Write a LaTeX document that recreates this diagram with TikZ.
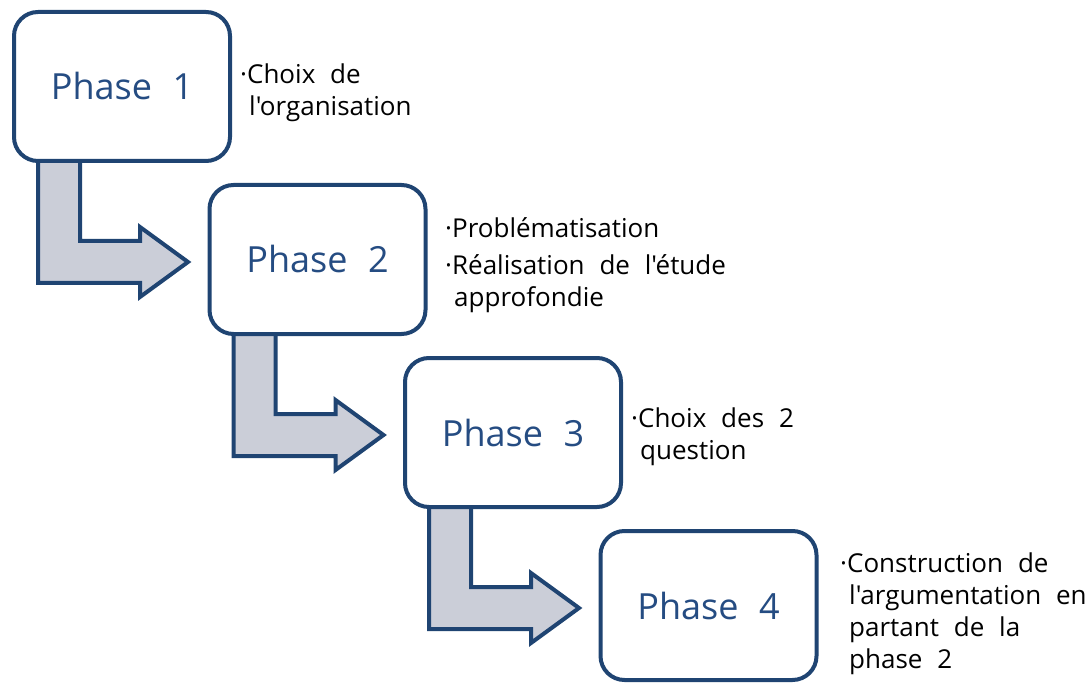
\documentclass[tikz,border=0pt]{standalone}
\usepackage{fontspec}
\setmainfont[WordSpace=2.2,Ligatures=TeXOff]{Open Sans}
\usetikzlibrary{calc}
\pgfdeclarelayer{bg}
\pgfsetlayers{bg,main}
\definecolor{boxblue}{HTML}{1F4472}
\definecolor{phaseblue}{HTML}{254C82}
\definecolor{arrowgray}{HTML}{CBCED8}
\tikzset{
  phasebox/.style={draw=boxblue, line width=4pt, fill=white, rounded corners=24pt,
    minimum width=216pt, minimum height=149pt, outer sep=0pt, inner sep=0pt,
    text=phaseblue, font=\fontsize{36}{40}\selectfont},
  bigarrow/.style={draw=boxblue, line width=4pt, fill=arrowgray, line join=miter},
  sidetext/.style={anchor=base west, align=left, inner sep=0pt, text=black,
    font=\fontsize{26}{32}\selectfont}
}
\begin{document}
\begin{tikzpicture}[x=1pt,y=-1pt]
\useasboundingbox (0,0) rectangle (1091,684);
% boxes
\node[phasebox] (p1) at (122,86.5) {Phase 1};
\node[phasebox] (p2) at (317.5,259.5) {Phase 2};
\node[phasebox] (p3) at (513,432.5) {Phase 3};
\node[phasebox] (p4) at (708.5,605.5) {Phase 4};
% arrows behind the boxes
\begin{pgfonlayer}{bg}
\foreach \i in {1,2,3}{
  \draw[bigarrow] ($(p\i.south west)+(24,-8)$) -- ($(p\i.south west)+(24,122)$)
    -- ($(p\i.south west)+(126,122)$) -- ($(p\i.south west)+(126,136)$)
    -- ($(p\i.south west)+(174,101)$) -- ($(p\i.south west)+(126,66)$)
    -- ($(p\i.south west)+(126,80)$) -- ($(p\i.south west)+(66,80)$)
    -- ($(p\i.south west)+(66,-8)$) -- cycle;
}
\end{pgfonlayer}
% side texts (anchored at the baseline of their last line)
\node[sidetext] (t1) at (240,116) {·Choix de\\\hspace*{9pt}l'organisation};
\node[sidetext] (t2a) at (445,238) {·Problématisation};
\node[sidetext] (t2b) at (445,306) {·Réalisation de l'étude\\\hspace*{9pt}approfondie};
\node[sidetext] (t3) at (631,459) {·Choix des 2\\\hspace*{9pt}question};
\node[sidetext] (t4) at (840,668) {·Construction de\\\hspace*{9pt}l'argumentation en\\\hspace*{9pt}partant de la\\\hspace*{9pt}phase 2};
\end{tikzpicture}
\end{document}
